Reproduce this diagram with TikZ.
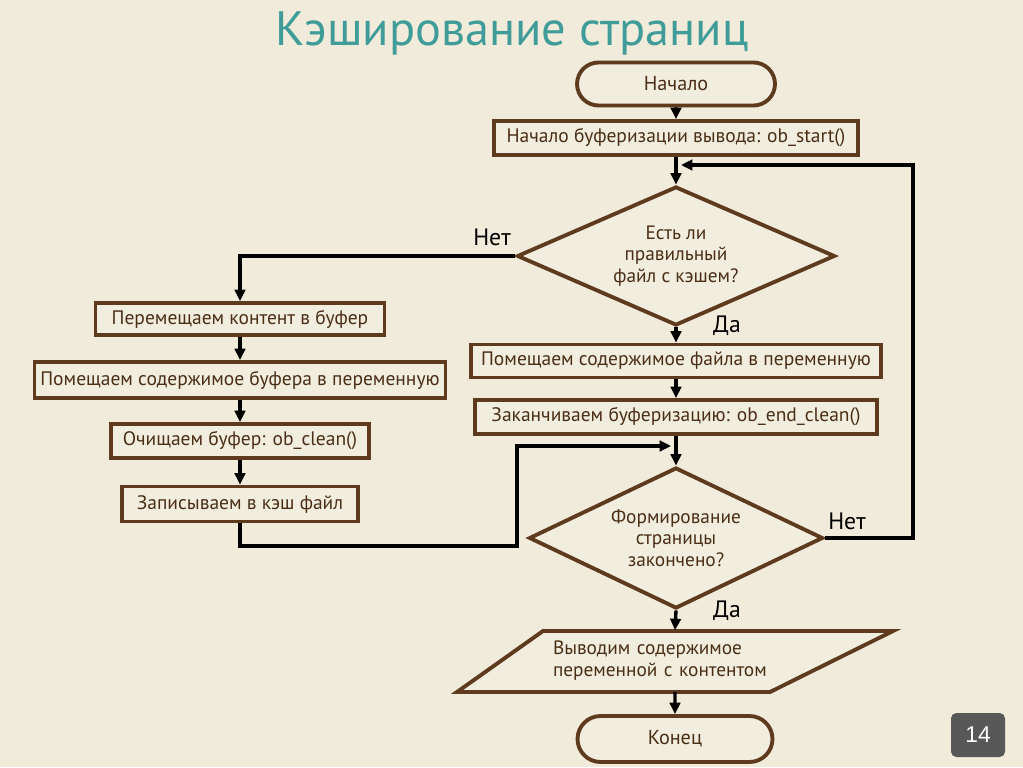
\documentclass[tikz,border=0pt]{standalone}
\usepackage{fontspec}
\setmainfont{PT Sans}
\newfontfamily\numfont{Liberation Sans}
\usetikzlibrary{arrows.meta,shapes.geometric,shapes.misc}
\definecolor{bg}{HTML}{F0EBDA}
\definecolor{boxfill}{HTML}{F2EEDF}
\definecolor{brownline}{HTML}{5E3A1E}
\definecolor{browntext}{HTML}{4A2E16}
\definecolor{titleteal}{HTML}{3F9C98}
\definecolor{numbg}{HTML}{585858}
\begin{document}
\begin{tikzpicture}[x=0.02cm,y=-0.02cm,
  stepbox/.style={draw=brownline,fill=boxfill,line width=2.2pt,rectangle,inner sep=0pt,
    font=\fontsize{11.1}{12}\selectfont,text=browntext},
  term/.style={draw=brownline,fill=boxfill,line width=2.2pt,rounded rectangle,inner sep=0pt,
    font=\fontsize{11.5}{13}\selectfont,text=browntext},
  decide/.style={draw=brownline,fill=boxfill,line width=2.2pt,diamond,aspect=2.2,inner sep=0pt,
    align=center,font=\fontsize{11}{12.4}\selectfont,text=browntext},
  conn/.style={draw=black,line width=1.9pt,-{Triangle[length=6.5pt,width=6pt]}},
  lbl/.style={font=\fontsize{13.5}{15}\selectfont,text=black,inner sep=0pt}]
\fill[bg] (0,0) rectangle (1023,767);
\useasboundingbox (0,0) rectangle (1023,767);

\node[font=\fontsize{27.5}{32}\selectfont,text=titleteal,inner sep=0pt] (title) at (512,33) {Кэширование страниц};

\node[term,minimum width=3.96cm,minimum height=0.86cm] (start) at (676,84) {Начало};
\node[stepbox,minimum width=7.28cm,minimum height=0.68cm] (b1) at (676,138) {Начало буферизации вывода: ob\_start()};
\node[decide,minimum width=6.36cm,minimum height=2.78cm] (d1) at (676,256) {Есть ли\\правильный\\файл с кэшем?};
\node[stepbox,minimum width=8.2cm,minimum height=0.66cm] (r1) at (676,361) {Помещаем содержимое файла в переменную};
\node[stepbox,minimum width=8.04cm,minimum height=0.68cm] (r2) at (676,417) {Заканчиваем буферизацию: ob\_end\_clean()};
\node[decide,minimum width=5.88cm,minimum height=2.82cm] (d2) at (676,538) {Формирование\\страницы\\закончено?};

\node[stepbox,minimum width=5.78cm,minimum height=0.64cm] (l1) at (240,319) {Перемещаем контент в буфер};
\node[stepbox,minimum width=8.22cm,minimum height=0.72cm] (l2) at (240,380) {Помещаем содержимое буфера в переменную};
\node[stepbox,minimum width=5.16cm,minimum height=0.68cm] (l3) at (240,441) {Очищаем буфер: ob\_clean()};
\node[stepbox,minimum width=4.72cm,minimum height=0.70cm] (l4) at (240,504) {Записываем в кэш файл};

\draw[draw=brownline,fill=boxfill,line width=2.2pt,line join=miter] (543,631) -- (893,631) -- (770,692) -- (457,692) -- cycle;
\node[inner sep=0pt,text width=4.88cm,align=left,minimum height=1.22cm,
  font=\fontsize{11}{12.6}\selectfont,text=browntext] (out) at (675,661) {Выводим содержимое\\переменной с контентом};

\node[term,minimum width=3.9cm,minimum height=0.92cm] (end) at (675,739) {Конец};

\node[fill=numbg,rounded corners=3pt,minimum width=1.08cm,minimum height=0.88cm,inner sep=0pt,
  text=white,font=\numfont\fontsize{13}{15}\selectfont] (num) at (978,735) {14};

\coordinate (m1) at (681,165);
\coordinate (m2) at (671,446);

\draw[conn] (start) -- (b1);
\draw[conn] (b1) -- (d1.north);
\draw[conn] (d1.south) -- (r1);
\draw[conn] (r1) -- (r2);
\draw[conn] (r2) -- (d2.north);
\draw[conn] (d2.south) -- (out.north);
\draw[conn] (out.south) -- (end);
\draw[conn] (d1.west) -| (l1.north);
\draw[conn] (l1) -- (l2);
\draw[conn] (l2) -- (l3);
\draw[conn] (l3) -- (l4);
\draw[conn] (l4.south) |- (517,546) |- (m2);
\draw[conn] (d2.east) -- (913,538) -- (913,165) -- (m1);

\node[lbl] (n1) at (492,237) {Нет};
\node[lbl] (y1) at (727,326) {Да};
\node[lbl] (n2) at (847,521) {Нет};
\node[lbl] (y2) at (727,611) {Да};
\end{tikzpicture}
\end{document}
